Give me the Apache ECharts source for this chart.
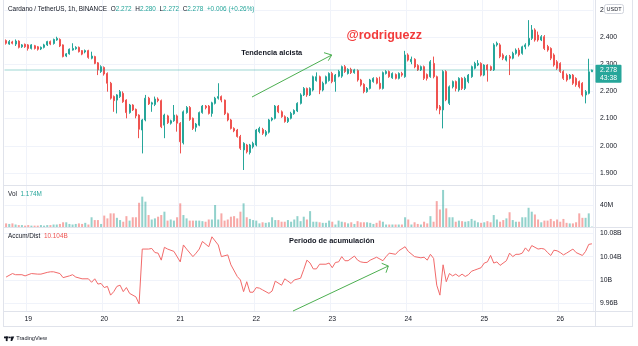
<!DOCTYPE html>
<html>
<head>
<meta charset="utf-8">
<script src="https://cdn.jsdelivr.net/npm/echarts@6.0.0/dist/echarts.min.js"></script>
<style>
  html, body { margin: 0; padding: 0; background: #ffffff; }
  #chart { width: 638px; height: 346px; }
</style>
</head>
<body>
<div id="chart"></div>
<script>
// ADA/USDT hourly candles, 18th 17:00 through 26th 10:00
const startDay = 18;
const startHour = 17;

// [open, close, low, high]
const ohlc = [
  [2.387,2.377,2.372,2.391],[2.374,2.383,2.371,2.389],[2.382,2.377,2.373,2.386],[2.374,2.385,2.367,2.391],
  [2.385,2.362,2.358,2.388],[2.364,2.371,2.360,2.374],[2.373,2.364,2.360,2.376],[2.371,2.358,2.350,2.374],
  [2.358,2.371,2.354,2.374],[2.368,2.358,2.354,2.371],[2.364,2.355,2.350,2.367],[2.356,2.362,2.352,2.365],
  [2.362,2.371,2.358,2.375],[2.371,2.383,2.367,2.386],[2.383,2.374,2.370,2.387],[2.376,2.391,2.372,2.394],
  [2.389,2.395,2.386,2.401],[2.391,2.367,2.363,2.395],[2.371,2.328,2.325,2.373],[2.330,2.338,2.326,2.341],
  [2.338,2.355,2.335,2.358],[2.352,2.358,2.350,2.377],[2.357,2.362,2.353,2.366],[2.362,2.346,2.343,2.365],
  [2.350,2.337,2.333,2.352],[2.345,2.350,2.340,2.354],[2.350,2.325,2.320,2.353],[2.322,2.330,2.318,2.346],
  [2.328,2.303,2.300,2.331],[2.305,2.279,2.260,2.308],[2.273,2.291,2.268,2.296],[2.288,2.264,2.258,2.292],
  [2.266,2.230,2.199,2.270],[2.230,2.175,2.170,2.235],[2.181,2.166,2.125,2.185],[2.168,2.187,2.119,2.190],
  [2.181,2.199,2.176,2.205],[2.193,2.162,2.158,2.200],[2.168,2.122,2.101,2.171],[2.122,2.150,2.118,2.154],
  [2.150,2.132,2.128,2.153],[2.134,2.110,2.101,2.137],[2.113,2.061,2.028,2.116],[2.058,2.095,1.972,2.099],
  [2.095,2.175,2.090,2.187],[2.175,2.154,2.150,2.180],[2.153,2.158,2.125,2.162],[2.152,2.172,2.146,2.181],
  [2.172,2.166,2.160,2.178],[2.166,2.070,2.065,2.170],[2.076,2.113,2.028,2.118],[2.110,2.085,2.080,2.114],
  [2.083,2.092,2.078,2.096],[2.092,2.113,2.088,2.150],[2.110,2.083,2.052,2.115],[2.083,2.015,1.972,2.087],
  [2.011,2.125,2.005,2.130],[2.122,2.141,2.118,2.146],[2.141,2.097,2.092,2.146],[2.101,2.064,2.058,2.104],
  [2.068,2.080,2.052,2.084],[2.076,2.122,2.072,2.126],[2.122,2.146,2.118,2.150],[2.146,2.140,2.134,2.150],
  [2.146,2.119,2.115,2.150],[2.119,2.158,2.107,2.162],[2.156,2.175,2.152,2.180],[2.175,2.181,2.170,2.230],
  [2.181,2.168,2.160,2.185],[2.168,2.118,2.113,2.170],[2.118,2.095,2.090,2.122],[2.095,2.064,2.060,2.099],
  [2.064,2.055,2.050,2.068],[2.058,2.034,2.030,2.062],[2.034,1.991,1.985,2.040],[1.985,2.009,1.911,2.013],
  [2.003,1.978,1.972,2.007],[1.975,2.003,1.968,2.007],[1.996,2.009,1.990,2.015],[2.003,2.058,1.998,2.062],
  [2.052,2.064,2.046,2.070],[2.060,2.046,2.040,2.066],[2.040,2.052,2.034,2.058],[2.050,2.095,2.045,2.099],
  [2.095,2.101,2.090,2.105],[2.101,2.146,2.097,2.150],[2.146,2.125,2.120,2.150],[2.125,2.107,2.103,2.130],
  [2.107,2.089,2.085,2.112],[2.089,2.101,2.084,2.106],[2.101,2.119,2.097,2.125],[2.118,2.130,2.114,2.134],
  [2.128,2.156,2.124,2.160],[2.156,2.187,2.152,2.193],[2.187,2.211,2.183,2.216],[2.211,2.187,2.180,2.214],
  [2.187,2.211,2.183,2.215],[2.205,2.254,2.200,2.258],[2.240,2.254,2.236,2.270],[2.254,2.205,2.190,2.258],
  [2.205,2.230,2.200,2.236],[2.230,2.254,2.226,2.258],[2.240,2.266,2.236,2.270],[2.266,2.236,2.230,2.272],
  [2.236,2.260,2.199,2.264],[2.256,2.273,2.252,2.279],[2.256,2.291,2.250,2.295],[2.291,2.273,2.268,2.297],
  [2.266,2.281,2.262,2.285],[2.281,2.269,2.264,2.287],[2.269,2.279,2.265,2.283],[2.277,2.242,2.236,2.281],
  [2.242,2.224,2.218,2.246],[2.226,2.199,2.193,2.230],[2.199,2.211,2.195,2.216],[2.211,2.242,2.207,2.246],
  [2.236,2.248,2.232,2.252],[2.248,2.230,2.226,2.252],[2.230,2.211,2.207,2.254],[2.211,2.269,2.207,2.273],
  [2.266,2.273,2.262,2.278],[2.273,2.254,2.250,2.277],[2.250,2.266,2.246,2.270],[2.262,2.248,2.244,2.266],
  [2.248,2.266,2.244,2.270],[2.266,2.260,2.254,2.272],[2.254,2.334,2.250,2.349],[2.334,2.315,2.310,2.340],
  [2.309,2.318,2.300,2.328],[2.318,2.290,2.285,2.322],[2.295,2.279,2.275,2.300],[2.279,2.291,2.275,2.295],
  [2.291,2.248,2.242,2.295],[2.262,2.248,2.240,2.266],[2.254,2.309,2.250,2.315],[2.303,2.254,2.248,2.328],
  [2.254,2.138,2.130,2.258],[2.144,2.132,2.116,2.150],[2.132,2.273,2.064,2.278],[2.273,2.169,2.164,2.278],
  [2.156,2.217,2.150,2.222],[2.217,2.236,2.211,2.240],[2.236,2.211,2.200,2.240],[2.205,2.248,2.199,2.252],
  [2.248,2.211,2.205,2.252],[2.211,2.248,2.205,2.254],[2.236,2.260,2.230,2.264],[2.254,2.291,2.250,2.295],
  [2.285,2.303,2.281,2.309],[2.297,2.303,2.293,2.315],[2.303,2.260,2.255,2.307],[2.260,2.297,2.256,2.300],
  [2.297,2.279,2.236,2.300],[2.291,2.279,2.275,2.295],[2.279,2.371,2.275,2.377],[2.371,2.377,2.365,2.383],
  [2.371,2.328,2.322,2.377],[2.334,2.322,2.315,2.340],[2.315,2.328,2.310,2.333],[2.328,2.322,2.260,2.334],
  [2.322,2.340,2.318,2.346],[2.340,2.352,2.335,2.358],[2.352,2.334,2.328,2.360],[2.340,2.364,2.335,2.368],
  [2.364,2.371,2.355,2.377],[2.371,2.395,2.365,2.462],[2.395,2.426,2.389,2.444],[2.426,2.389,2.383,2.432],
  [2.407,2.389,2.383,2.420],[2.389,2.401,2.385,2.407],[2.401,2.358,2.352,2.407],[2.365,2.352,2.346,2.371],
  [2.358,2.322,2.315,2.362],[2.334,2.297,2.291,2.340],[2.309,2.285,2.279,2.315],[2.303,2.273,2.268,2.307],
  [2.273,2.248,2.242,2.278],[2.260,2.242,2.236,2.266],[2.248,2.260,2.244,2.264],[2.260,2.230,2.224,2.264],
  [2.248,2.224,2.217,2.252],[2.236,2.217,2.211,2.240],[2.230,2.187,2.181,2.234],[2.187,2.199,2.156,2.205],
  [2.193,2.272,2.189,2.320],[2.272,2.278,2.272,2.280]
];

// hourly volume, millions of ADA
const volumeM = [
  7,6,7,5,4, 4,3,4,3,3,3,4,3,4,4,5,5,6, 9,9, 6,5,6,7,6,8,5,
  18,13,13,6,21,16,25,25,17, 13,10,20,12,18,18,44,55,46,
  22,14,16,19,22,28,12,14,12,18,43, 22,16,12,12,12,12,11,10,14,14,
  40,14,25,12,14,19,20,16,28,43, 18,15,13,12,7,9,8,9,18,13,
  13,10,10,13,10,14,20, 11,19,14,29, 10,10,9,8,8,12,10,5,12,
  10,9,7,9,6,11,9,9,9,8,6,8,12,10,5,5,5,5,5,5,
  18,14,5,9,6,5,10,7,20,10, 47,32,67,34,18,18,10,12,11,10,
  11,15,12,9,8,9,11,9,22,14, 10,13,16,27,13,10,10,18,18,35,
  28,23,14,9,12,12,15,11,14,10, 15,8,7,7,9,25,17,17,25,1.174
];

// Accumulation/Distribution line, [candle index, billions]
const accumDist = [
  [0,10.005],[2,10.011],[3,10.009],[5,10.009],[6,10.007],[8,10.011],[10,10.010],[11,10.010],
  [13,10.013],[14,10.014],[15,10.014],[17,10.011],[18,10.004],[20,10.007],[21,10.009],[22,10.005],
  [24,10.002],[26,10.002],[27,9.996],[28,10.002],[29,9.993],[30,9.994],[31,9.987],[32,9.989],
  [33,9.974],[34,9.980],[35,9.989],[36,9.991],[37,9.980],[38,9.987],[39,9.977],[41,9.971],
  [42,9.959],[43,10.053],[45,10.053],[46,10.054],[47,10.047],[48,10.046],[49,10.034],[50,10.056],
  [51,10.053],[53,10.049],[55,10.031],[56,10.060],[57,10.053],[59,10.040],[60,10.046],[61,10.053],
  [62,10.066],[64,10.057],[65,10.074],[67,10.060],[68,10.040],[70,10.043],[71,10.026],[73,10.006],
  [74,10.000],[75,9.980],[76,9.997],[77,9.979],[78,9.979],[79,9.987],[80,9.986],[81,9.983],
  [83,9.977],[84,9.981],[85,9.998],[87,9.991],[88,10.002],[89,9.998],[90,9.994],[91,10.000],
  [93,10.003],[94,10.018],[95,10.034],[96,10.029],[97,10.019],[98,10.019],[99,10.027],[101,10.027],
  [102,10.029],[103,10.021],[104,10.030],[105,10.031],[106,10.040],[107,10.033],[108,10.033],[110,10.041],
  [111,10.034],[112,10.031],[113,10.030],[114,10.030],[115,10.034],[117,10.039],[119,10.033],[120,10.040],
  [121,10.046],[123,10.044],[124,10.050],[126,10.057],[127,10.049],[129,10.040],[131,10.038],[132,10.039],
  [133,10.034],[134,10.044],[135,10.037],[136,9.991],[137,9.974],[138,10.026],[139,9.997],[140,10.011],
  [141,10.007],[142,10.010],[143,10.006],[144,10.010],[145,10.006],[146,10.009],[147,10.015],[148,10.017],
  [149,10.019],[150,10.021],[151,10.029],[152,10.031],[153,10.042],[154,10.029],[155,10.031],[156,10.025],
  [158,10.033],[159,10.046],[160,10.040],[161,10.044],[162,10.044],[163,10.046],[164,10.055],[165,10.049],
  [166,10.059],[168,10.053],[169,10.054],[170,10.053],[171,10.047],[172,10.042],[173,10.051],[174,10.050],
  [175,10.047],[176,10.043],[177,10.046],[179,10.053],[180,10.047],[182,10.042],[183,10.049],[184,10.061],
  [185,10.062]
];

const symbolTitle = 'Cardano / TetherUS, 1h, BINANCE';
const adReadout = '10.104B';
const countdown = '43:38';
const quoteUnit = 'USDT';

// hourly category labels "DD HH:00"
const categories = ohlc.map((_, k) => {
  const t = startHour + k;
  const day = startDay + Math.floor(t / 24);
  const hour = t % 24;
  return day + ' ' + String(hour).padStart(2, '0') + ':00';
});
const isDayStart = (i) => (startHour + i) % 24 === 0;

const FONT = '"Liberation Sans", Arial, sans-serif';
const UP = '#26a69a';
const DOWN = '#ef5350';
const UP_VOL = 'rgba(38,166,154,0.5)';
const DOWN_VOL = 'rgba(239,83,80,0.5)';
const GRID_LINE = '#f0f3fa';
const SEP = '#e0e3eb';
const TXT = '#131722';
const L = 4.5, R = 44.5;

const last = ohlc[ohlc.length - 1];
const prev = ohlc[ohlc.length - 2];
const change = last[1] - prev[1];
const changePct = change / prev[1] * 100;
const sign = (v) => (v >= 0 ? '+' : '');

function dayAxis(gridIndex, showSplit, extra) {
  return Object.assign({
    type: 'category',
    gridIndex: gridIndex,
    data: categories,
    boundaryGap: true,
    axisLine: { show: false },
    axisTick: { show: false },
    axisLabel: { show: false },
    splitLine: { show: showSplit, interval: (i) => isDayStart(i), lineStyle: { color: GRID_LINE, width: 1 } }
  }, extra || {});
}

function rightAxis(gridIndex, extra) {
  return Object.assign({
    type: 'value',
    gridIndex: gridIndex,
    position: 'right',
    axisLine: { show: false },
    axisTick: { show: false },
    splitLine: { show: true, lineStyle: { color: GRID_LINE, width: 1 } },
    axisLabel: { margin: 6.5, fontSize: 6.8, color: TXT, fontFamily: FONT }
  }, extra);
}

const gridBase = { left: L, right: R, containLabel: false, outerBoundsMode: 'none' };

const chart = echarts.init(document.getElementById('chart'), null, { renderer: 'canvas' });

chart.setOption({
  animation: false,
  backgroundColor: '#ffffff',
  textStyle: { fontFamily: FONT },
  grid: [
    Object.assign({ top: 9.8, height: 163.2 }, gridBase),   // price
    Object.assign({ top: 0, height: 185 }, gridBase),       // price pane backdrop
    Object.assign({ top: 185, height: 42.3 }, gridBase),    // volume
    Object.assign({ top: 233.3, height: 70 }, gridBase),    // accum/dist
    Object.assign({ top: 227.5, height: 84.2 }, gridBase)   // accum/dist backdrop + dates
  ],
  xAxis: [
    dayAxis(0, false),
    dayAxis(1, true),
    dayAxis(2, true),
    dayAxis(3, false),
    dayAxis(4, true, {
      axisLabel: {
        show: true, interval: (i) => isDayStart(i), margin: 3.5,
        fontSize: 6.8, color: TXT, fontFamily: FONT,
        formatter: (v) => v.split(' ')[0]
      }
    })
  ],
  yAxis: [
    rightAxis(0, {
      min: 1.9, max: 2.5, interval: 0.1,
      axisLabel: { margin: 6.5, fontSize: 6.8, color: TXT, fontFamily: FONT, formatter: (v) => v.toFixed(3) }
    }),
    { type: 'value', gridIndex: 1, show: false },
    rightAxis(2, {
      min: 0, max: 75.9, interval: 40,
      splitLine: { show: true, lineStyle: { color: GRID_LINE, width: 1 } },
      axisLabel: { margin: 6.5, fontSize: 6.8, color: TXT, fontFamily: FONT,
        formatter: (v) => (Math.abs(v - 40) < 1e-9 ? '40M' : '') }
    }),
    rightAxis(3, {
      min: 9.96, max: 10.08, interval: 0.04,
      axisLabel: { margin: 6.5, fontSize: 6.8, color: TXT, fontFamily: FONT,
        formatter: (v) => (Math.round(v * 100) / 100) + 'B' }
    }),
    { type: 'value', gridIndex: 4, show: false }
  ],
  series: [
    {
      type: 'candlestick',
      xAxisIndex: 0, yAxisIndex: 0,
      data: ohlc,
      barWidth: 1.6,
      itemStyle: { color: UP, color0: DOWN, borderColor: UP, borderColor0: DOWN, borderWidth: 1 },
      markLine: {
        silent: true,
        symbol: ['none', 'none'],
        label: { show: false },
        lineStyle: { color: 'rgba(38,166,154,0.3)', width: 1.5, type: 'solid' },
        data: [{ yAxis: last[1] }]
      }
    },
    {
      type: 'bar',
      xAxisIndex: 2, yAxisIndex: 2,
      barWidth: 2,
      data: volumeM.map((v, i) => ({
        value: v,
        itemStyle: { color: ohlc[i][1] >= ohlc[i][0] ? UP_VOL : DOWN_VOL }
      }))
    },
    {
      type: 'line',
      xAxisIndex: 3, yAxisIndex: 3,
      data: accumDist,
      showSymbol: false,
      clip: false,
      lineStyle: { color: '#f26a6a', width: 1 }
    }
  ]
});

// overlay: pane frames, readouts, badges and the drawn annotations
const yLast = chart.convertToPixel({ yAxisIndex: 0 }, last[1]);

function hline(y, x1, x2, color) {
  return { type: 'line', z: 50, silent: true, shape: { x1: x1, y1: y, x2: x2, y2: y }, style: { stroke: color, lineWidth: 1 } };
}
function vline(x, y1, y2, color) {
  return { type: 'line', z: 50, silent: true, shape: { x1: x, y1: y1, x2: x, y2: y2 }, style: { stroke: color, lineWidth: 1 } };
}
function label(x, y, text, opts) {
  const o = opts || {};
  return {
    type: 'text', z: 60, silent: true, x: x, y: y,
    style: Object.assign({
      text: text, fill: TXT, fontSize: 6.5, fontFamily: FONT,
      align: 'left', verticalAlign: 'middle', textAlign: 'left', textVerticalAlign: 'middle'
    }, o)
  };
}
function arrow(x1, y1, x2, y2, a1, a2) {
  const st = { stroke: '#4caf50', lineWidth: 1, fill: null };
  return [
    { type: 'polyline', z: 55, silent: true, shape: { points: [[x1, y1], [x2, y2]] }, style: st },
    { type: 'polyline', z: 55, silent: true, shape: { points: [a1, [x2, y2], a2] }, style: st }
  ];
}

const elements = [
  hline(185.5, 3, 633, SEP),
  hline(227.5, 3, 633, SEP),
  hline(311.5, 3, 633, SEP),
  hline(326.5, 3, 633, SEP),
  vline(3.5, 0, 326.5, SEP),
  vline(595.5, 0, 326.5, SEP),
  vline(632.5, 0, 326.5, SEP),

  // header readouts
  label(8, 9.5,
    '{t|' + symbolTitle + '}  {t|O}{v|' + last[0].toFixed(3) + '}  {t|H}{v|' + last[3].toFixed(3) +
    '}  {t|L}{v|' + last[2].toFixed(3) + '}  {t|C}{v|' + last[1].toFixed(3) + '}  {v|' +
    sign(change) + change.toFixed(3) + ' (' + sign(changePct) + changePct.toFixed(2) + '%)}',
    { rich: { t: { fill: TXT, fontSize: 6.4, fontFamily: FONT }, v: { fill: UP, fontSize: 6.4, fontFamily: FONT } } }),
  label(8, 194.5, '{t|Vol}  {v|' + volumeM[volumeM.length - 1].toFixed(3) + 'M}',
    { rich: { t: { fill: TXT, fontSize: 6.4, fontFamily: FONT }, v: { fill: UP, fontSize: 6.4, fontFamily: FONT } } }),
  label(8, 236.5, '{t|Accum/Dist}  {v|' + adReadout + '}',
    { rich: { t: { fill: TXT, fontSize: 6.4, fontFamily: FONT }, v: { fill: DOWN, fontSize: 6.4, fontFamily: FONT } } }),

  // quote currency badge
  { type: 'rect', z: 60, silent: true, shape: { x: 604.5, y: 4.5, width: 19, height: 9, r: 2 },
    style: { fill: '#ffffff', stroke: '#d1d4dc', lineWidth: 1 } },
  label(614, 9, quoteUnit, { fontSize: 5.5, align: 'center', textAlign: 'center' }),

  // last price badge
  { type: 'rect', z: 60, silent: true, shape: { x: 595.5, y: yLast - 5.5, width: 26, height: 18, r: 1 },
    style: { fill: UP } },
  label(608.5, yLast, last[1].toFixed(3), { fill: '#ffffff', fontSize: 6.8, align: 'center', textAlign: 'center' }),
  label(608.5, yLast + 8.3, countdown, { fill: '#ffffff', fontSize: 6.8, align: 'center', textAlign: 'center' }),

  // annotations
  label(271.7, 53.4, 'Tendencia alcista', { fontSize: 7.4, fontWeight: 'bold', align: 'center', textAlign: 'center' }),
  label(384.2, 36, '@rodriguezz', { fontSize: 12.5, fontWeight: 'bold', fill: '#f23b3b', align: 'center', textAlign: 'center' }),
  label(331.7, 241.2, 'Periodo de acumulación', { fontSize: 7.4, fontWeight: 'bold', align: 'center', textAlign: 'center' })
].concat(
  arrow(252, 97, 331.7, 55, [324, 52.7], [328.3, 60.7]),
  arrow(293, 311, 388.3, 266, [381.7, 263.3], [386, 272.7])
).concat([
  // TradingView mark
  { type: 'rect', z: 60, silent: true, shape: { x: 4, y: 336.5, width: 4.6, height: 1.8 }, style: { fill: TXT } },
  { type: 'rect', z: 60, silent: true, shape: { x: 5.8, y: 336.5, width: 1.8, height: 4.6 }, style: { fill: TXT } },
  { type: 'circle', z: 60, silent: true, shape: { cx: 9.9, cy: 337.4, r: 0.95 }, style: { fill: TXT } },
  { type: 'polygon', z: 60, silent: true, shape: { points: [[11.2, 336.5], [14.2, 336.5], [12.2, 341.1], [10.6, 341.1]] }, style: { fill: TXT } },
  label(16.2, 338.8, 'TradingView', { fontSize: 5.6 })
]);

chart.setOption({ graphic: { elements: elements } });
</script>
</body>
</html>
